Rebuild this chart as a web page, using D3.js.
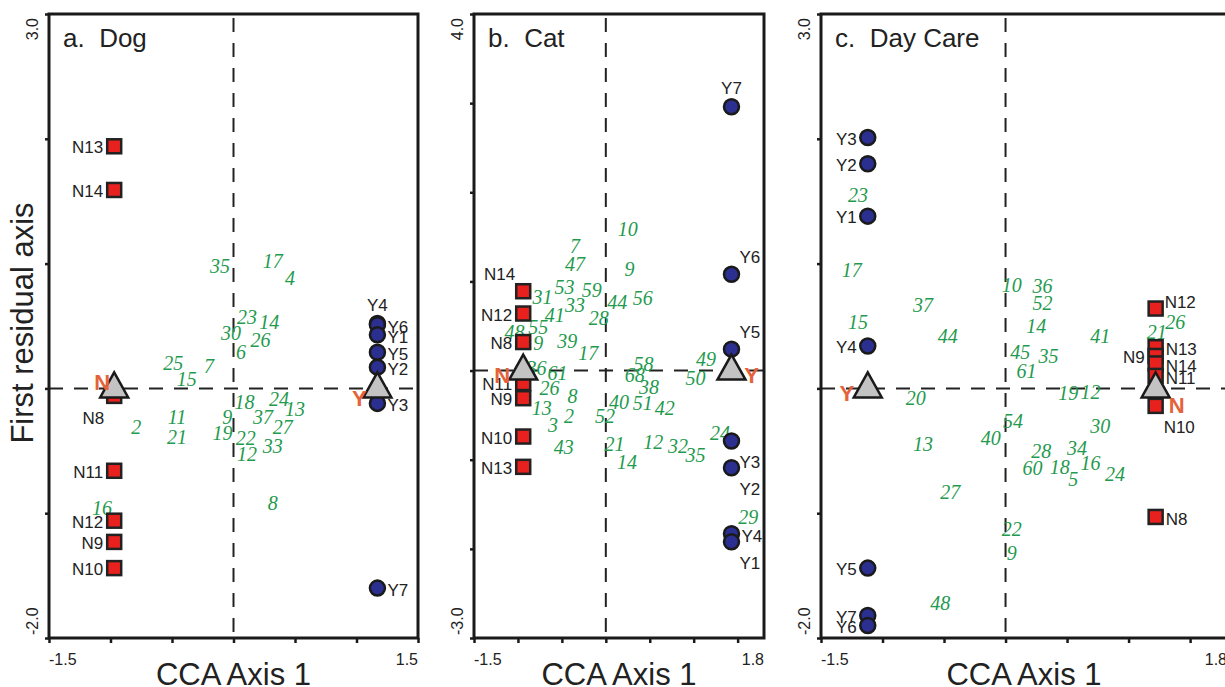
<!DOCTYPE html>
<html>
<head>
<meta charset="utf-8">
<script src="https://cdnjs.cloudflare.com/ajax/libs/d3/7.8.5/d3.min.js"></script>
<style>
    body { margin: 0; background: #fff; }
    svg { display: block; }
</style>
</head>
<body>
<svg id="chart" width="1225" height="687"></svg>
<script>

// ---- a. Dog ----
var dogNSites = [
    ["N13", -0.97, 1.94, "w"], ["N14", -0.97, 1.59, "w"], ["N8", -0.97, -0.06, "sw"],
    ["N11", -0.97, -0.66, "w"], ["N12", -0.97, -1.06, "w"], ["N9", -0.97, -1.23, "w"],
    ["N10", -0.97, -1.44, "w"]
];
var dogYSites = [
    ["Y4", 1.17, 0.52, "n"], ["Y6", 1.17, 0.51, "e"], ["Y1", 1.17, 0.43, "e"],
    ["Y5", 1.17, 0.29, "e"], ["Y2", 1.17, 0.17, "e"], ["Y3", 1.17, -0.12, "e"],
    ["Y7", 1.17, -1.6, "e"]
];
var dogCentroids = [["N", -0.97, 0, "nw"], ["Y", 1.17, 0, "sw"]];
var dogSpecies = [
    ["35", -0.11, 0.98], ["17", 0.32, 1.02], ["4", 0.46, 0.88], ["23", 0.11, 0.57],
    ["14", 0.29, 0.53], ["30", -0.02, 0.44], ["26", 0.22, 0.39], ["6", 0.06, 0.29],
    ["25", -0.49, 0.2], ["7", -0.2, 0.18], ["15", -0.38, 0.07], ["18", 0.09, -0.11],
    ["24", 0.37, -0.09], ["13", 0.5, -0.17], ["37", 0.24, -0.23], ["11", -0.46, -0.23],
    ["9", -0.05, -0.23], ["2", -0.79, -0.31], ["27", 0.4, -0.31], ["21", -0.46, -0.39],
    ["19", -0.09, -0.36], ["22", 0.1, -0.4], ["33", 0.32, -0.46], ["12", 0.11, -0.53],
    ["8", 0.32, -0.92], ["16", -1.07, -0.96]
];

// ---- b. Cat ----
var catNSites = [
    ["N14", -0.94, 0.89, "nw"], ["N12", -0.94, 0.64, "w"], ["N8", -0.94, 0.32, "w"],
    ["N11", -0.94, -0.14, "w"], ["N9", -0.94, -0.31, "w"], ["N10", -0.94, -0.74, "w"],
    ["N13", -0.94, -1.08, "w"]
];
var catYSites = [
    ["Y7", 1.43, 2.96, "n"], ["Y6", 1.43, 1.08, "ne"], ["Y5", 1.43, 0.24, "ne"],
    ["Y3", 1.43, -0.79, "se"], ["Y2", 1.43, -1.09, "se"], ["Y4", 1.43, -1.83, "e"],
    ["Y1", 1.43, -1.92, "se"]
];
var catCentroids = [["N", -0.94, 0, "w"], ["Y", 1.43, 0, "e"]];
var catSpecies = [
    ["10", 0.25, 1.59], ["7", -0.35, 1.39], ["47", -0.35, 1.19], ["9", 0.27, 1.14],
    ["53", -0.47, 0.94], ["59", -0.16, 0.9], ["31", -0.72, 0.82], ["44", 0.13, 0.77],
    ["56", 0.42, 0.81], ["33", -0.35, 0.73], ["41", -0.58, 0.62], ["28", -0.08, 0.59],
    ["48", -1.04, 0.43], ["55", -0.77, 0.49], ["9", -0.77, 0.31], ["39", -0.44, 0.33],
    ["17", -0.2, 0.2], ["36", -0.79, 0.03], ["61", -0.55, -0.03], ["58", 0.43, 0.07],
    ["68", 0.33, -0.05], ["49", 1.14, 0.13], ["50", 1.02, -0.08], ["26", -0.64, -0.2],
    ["38", 0.49, -0.19], ["8", -0.38, -0.29], ["13", -0.73, -0.42], ["40", 0.15, -0.36],
    ["51", 0.42, -0.37], ["42", 0.67, -0.42], ["2", -0.42, -0.51], ["52", -0.01, -0.51],
    ["3", -0.6, -0.61], ["43", -0.48, -0.86], ["21", 0.1, -0.83], ["12", 0.54, -0.8],
    ["32", 0.82, -0.85], ["35", 1.02, -0.95], ["24", 1.3, -0.7], ["14", 0.24, -1.03],
    ["29", 1.62, -1.64]
];

// ---- c. Day Care ----
var careYSites = [
    ["Y3", -1.12, 2.01, "w"], ["Y2", -1.12, 1.8, "w"], ["Y1", -1.12, 1.38, "w"],
    ["Y4", -1.12, 0.34, "w"], ["Y5", -1.12, -1.44, "w"], ["Y7", -1.12, -1.82, "w"],
    ["Y6", -1.12, -1.9, "w"]
];
var careNSites = [
    ["N12", 1.22, 0.64, "ene"], ["N13", 1.22, 0.33, "e"], ["N9", 1.22, 0.26, "w"],
    ["N14", 1.22, 0.2, "e"], ["N11", 1.22, 0.1, "e"], ["N10", 1.22, -0.14, "se"],
    ["N8", 1.22, -1.03, "e"]
];
var careCentroids = [["Y", -1.12, 0, "w"], ["N", 1.22, 0, "se"]];
var careSpecies = [
    ["23", -1.2, 1.55], ["17", -1.25, 0.95], ["37", -0.67, 0.67], ["15", -1.2, 0.53],
    ["44", -0.47, 0.42], ["10", 0.05, 0.83], ["36", 0.3, 0.82], ["52", 0.3, 0.68],
    ["14", 0.25, 0.5], ["41", 0.77, 0.42], ["26", 1.38, 0.53], ["21", 1.23, 0.45],
    ["45", 0.12, 0.29], ["35", 0.35, 0.26], ["61", 0.17, 0.14], ["20", -0.73, -0.08],
    ["19", 0.51, -0.04], ["12", 0.69, -0.03], ["54", 0.06, -0.26], ["30", 0.77, -0.3],
    ["40", -0.12, -0.4], ["13", -0.67, -0.45], ["28", 0.29, -0.5], ["34", 0.58, -0.48],
    ["60", 0.22, -0.64], ["18", 0.44, -0.63], ["16", 0.69, -0.6], ["5", 0.55, -0.73],
    ["24", 0.89, -0.69], ["27", -0.45, -0.83], ["22", 0.05, -1.13], ["9", 0.05, -1.32],
    ["48", -0.53, -1.72]
];

// label placement codes -> offsets
var siteLabelPos = {
    w:   { anchor: "end",    dx: -11, dy: 1 },
    e:   { anchor: "start",  dx: 10,  dy: 2 },
    n:   { anchor: "middle", dx: 0,   dy: -19 },
    sw:  { anchor: "end",    dx: -10, dy: 22 },
    nw:  { anchor: "end",    dx: -8,  dy: -17 },
    ne:  { anchor: "start",  dx: 8,   dy: -17 },
    ene: { anchor: "start",  dx: 9,   dy: -7 },
    se:  { anchor: "start",  dx: 8,   dy: 21 }
};
var centroidLabelPos = {
    w:  [-21, 5], e: [20, 5], nw: [-12, -6], sw: [-18, 10], se: [21, 17]
};

var svg = d3.select("#chart");

drawPanel = function (opt) {
    var x = d3.scaleLinear().domain(opt.xDomain).range([opt.left, opt.right]);
    var y = d3.scaleLinear().domain(opt.yDomain).range([638, 14]);
    var g = svg.append("g");

    // axis ticks
    var xt = d3.range(opt.xDomain[0], opt.xDomain[1] + 0.001, 0.5);
    g.append("g")
        .attr("transform", "translate(0,638)")
        .call(d3.axisBottom(x).tickValues(xt).tickSize(5).tickFormat(""))
        .call(function (s) { s.select(".domain").remove(); })
        .selectAll("line").attr("stroke", "#1a1a1a").attr("stroke-width", 2.5);
    var yt = d3.range(opt.yDomain[0], opt.yDomain[1] + 0.001, 1);
    g.append("g")
        .attr("transform", "translate(" + opt.left + ",0)")
        .call(d3.axisLeft(y).tickValues(yt).tickSize(4).tickFormat(""))
        .call(function (s) { s.select(".domain").remove(); })
        .selectAll("line").attr("stroke", "#1a1a1a").attr("stroke-width", 2.5);

    // dashed zero lines
    g.append("line")
        .attr("x1", x(0)).attr("x2", x(0)).attr("y1", 18).attr("y2", 638)
        .attr("stroke", "#222").attr("stroke-width", 2).attr("stroke-dasharray", "14,11");
    g.append("line")
        .attr("x1", opt.left).attr("x2", opt.right).attr("y1", y(0)).attr("y2", y(0))
        .attr("stroke", "#222").attr("stroke-width", 2).attr("stroke-dasharray", "14,11");

    // frame
    g.append("rect")
        .attr("x", opt.left).attr("y", 14)
        .attr("width", opt.right - opt.left).attr("height", 624)
        .attr("fill", "none").attr("stroke", "#1a1a1a").attr("stroke-width", 3);

    // tick labels (ends only)
    g.append("text")
        .attr("x", opt.left).attr("y", 665)
        .attr("text-anchor", "start")
        .style("font-family", "Arial, 'Liberation Sans', sans-serif").style("font-size", "16px")
        .attr("fill", "#222")
        .text(opt.xDomain[0].toFixed(1));
    g.append("text")
        .attr("x", opt.right).attr("y", 665)
        .attr("text-anchor", "end")
        .style("font-family", "Arial, 'Liberation Sans', sans-serif").style("font-size", "16px")
        .attr("fill", "#222")
        .text(opt.xDomain[1].toFixed(1));
    g.append("text")
        .attr("transform", "translate(" + (opt.left - 11) + ",18)rotate(-90)")
        .attr("text-anchor", "end")
        .style("font-family", "Arial, 'Liberation Sans', sans-serif").style("font-size", "16px")
        .attr("fill", "#222")
        .text(opt.yDomain[1].toFixed(1));
    g.append("text")
        .attr("transform", "translate(" + (opt.left - 11) + ",635)rotate(-90)")
        .attr("text-anchor", "start")
        .style("font-family", "Arial, 'Liberation Sans', sans-serif").style("font-size", "16px")
        .attr("fill", "#222")
        .text(opt.yDomain[0].toFixed(1));

    // X label
    g.append("text")
        .attr("x", (opt.left + opt.right) / 2).attr("y", 685)
        .attr("text-anchor", "middle")
        .style("font-family", "Arial, 'Liberation Sans', sans-serif").style("font-size", "31px")
        .attr("fill", "#222")
        .text("CCA Axis 1");

    // Title
    g.append("text")
        .attr("x", opt.left + 14).attr("y", 47)
        .attr("xml:space", "preserve")
        .style("white-space", "pre")
        .style("font-family", "Arial, 'Liberation Sans', sans-serif").style("font-size", "26px")
        .attr("fill", "#222")
        .text(opt.title);

    // species numbers
    g.append("g")
        .selectAll("text")
        .data(opt.species)
        .enter()
        .append("text")
        .attr("x", function (d) { return x(d[1]); })
        .attr("y", function (d) { return y(d[2]); })
        .attr("dy", "0.34em")
        .attr("text-anchor", "middle")
        .style("font-family", "'Times New Roman', 'Liberation Serif', serif")
        .style("font-style", "italic")
        .style("font-size", "20px")
        .attr("fill", "#1f9a4e")
        .text(function (d) { return d[0]; });

    // sites: squares (N) and circles (Y)
    g.append("g")
        .selectAll("rect")
        .data(opt.nSites)
        .enter()
        .append("rect")
        .attr("x", function (d) { return x(d[1]) - 7; })
        .attr("y", function (d) { return y(d[2]) - 7; })
        .attr("width", 14).attr("height", 14)
        .attr("fill", "#e8211e").attr("stroke", "#222").attr("stroke-width", 2.5);
    g.append("g")
        .selectAll("circle")
        .data(opt.ySites)
        .enter()
        .append("circle")
        .attr("cx", function (d) { return x(d[1]); })
        .attr("cy", function (d) { return y(d[2]); })
        .attr("r", 7.5)
        .attr("fill", "#2b2f8f").attr("stroke", "#1a1a1a").attr("stroke-width", 2.5);

    // site labels
    g.append("g")
        .selectAll("text")
        .data(opt.nSites.concat(opt.ySites))
        .enter()
        .append("text")
        .attr("x", function (d) { return x(d[1]) + siteLabelPos[d[3]].dx; })
        .attr("y", function (d) { return y(d[2]) + siteLabelPos[d[3]].dy; })
        .attr("dy", "0.36em")
        .attr("text-anchor", function (d) { return siteLabelPos[d[3]].anchor; })
        .style("font-family", "Arial, 'Liberation Sans', sans-serif").style("font-size", "17px")
        .attr("fill", "#222")
        .text(function (d) { return d[0]; });

    // centroid triangles
    var tri = "M0,-16L14,9L-14,9Z";
    g.append("g")
        .selectAll("path")
        .data(opt.centroids)
        .enter()
        .append("path")
        .attr("d", tri)
        .attr("transform", function (d) { return "translate(" + x(d[1]) + "," + y(d[2]) + ")"; })
        .attr("fill", "#c3c3c3").attr("stroke", "#1a1a1a").attr("stroke-width", 2.5)
        .attr("stroke-linejoin", "miter");
    g.append("g")
        .selectAll("text")
        .data(opt.centroids)
        .enter()
        .append("text")
        .attr("x", function (d) { return x(d[1]) + centroidLabelPos[d[3]][0]; })
        .attr("y", function (d) { return y(d[2]) + centroidLabelPos[d[3]][1]; })
        .attr("dy", "0.36em")
        .attr("text-anchor", "middle")
        .style("font-family", "Arial, 'Liberation Sans', sans-serif")
        .style("font-size", "22px").style("font-weight", "bold")
        .attr("fill", "#e5633a")
        .text(function (d) { return d[0]; });
}

drawPanel({ title: "a.  Dog", left: 49, right: 418, xDomain: [-1.5, 1.5], yDomain: [-2, 3],
    nSites: dogNSites, ySites: dogYSites, centroids: dogCentroids, species: dogSpecies });
drawPanel({ title: "b.  Cat", left: 474, right: 764, xDomain: [-1.5, 1.8], yDomain: [-3, 4],
    nSites: catNSites, ySites: catYSites, centroids: catCentroids, species: catSpecies });
drawPanel({ title: "c.  Day Care", left: 821, right: 1227, xDomain: [-1.5, 1.8], yDomain: [-2, 3],
    nSites: careNSites, ySites: careYSites, centroids: careCentroids, species: careSpecies });

// Y label
svg.append("text")
    .attr("transform", "translate(33,323)rotate(-90)")
    .attr("text-anchor", "middle")
    .style("font-family", "Arial, 'Liberation Sans', sans-serif")
    .style("font-size", "31px")
    .attr("fill", "#222")
    .text("First residual axis");

</script>
</body>
</html>
